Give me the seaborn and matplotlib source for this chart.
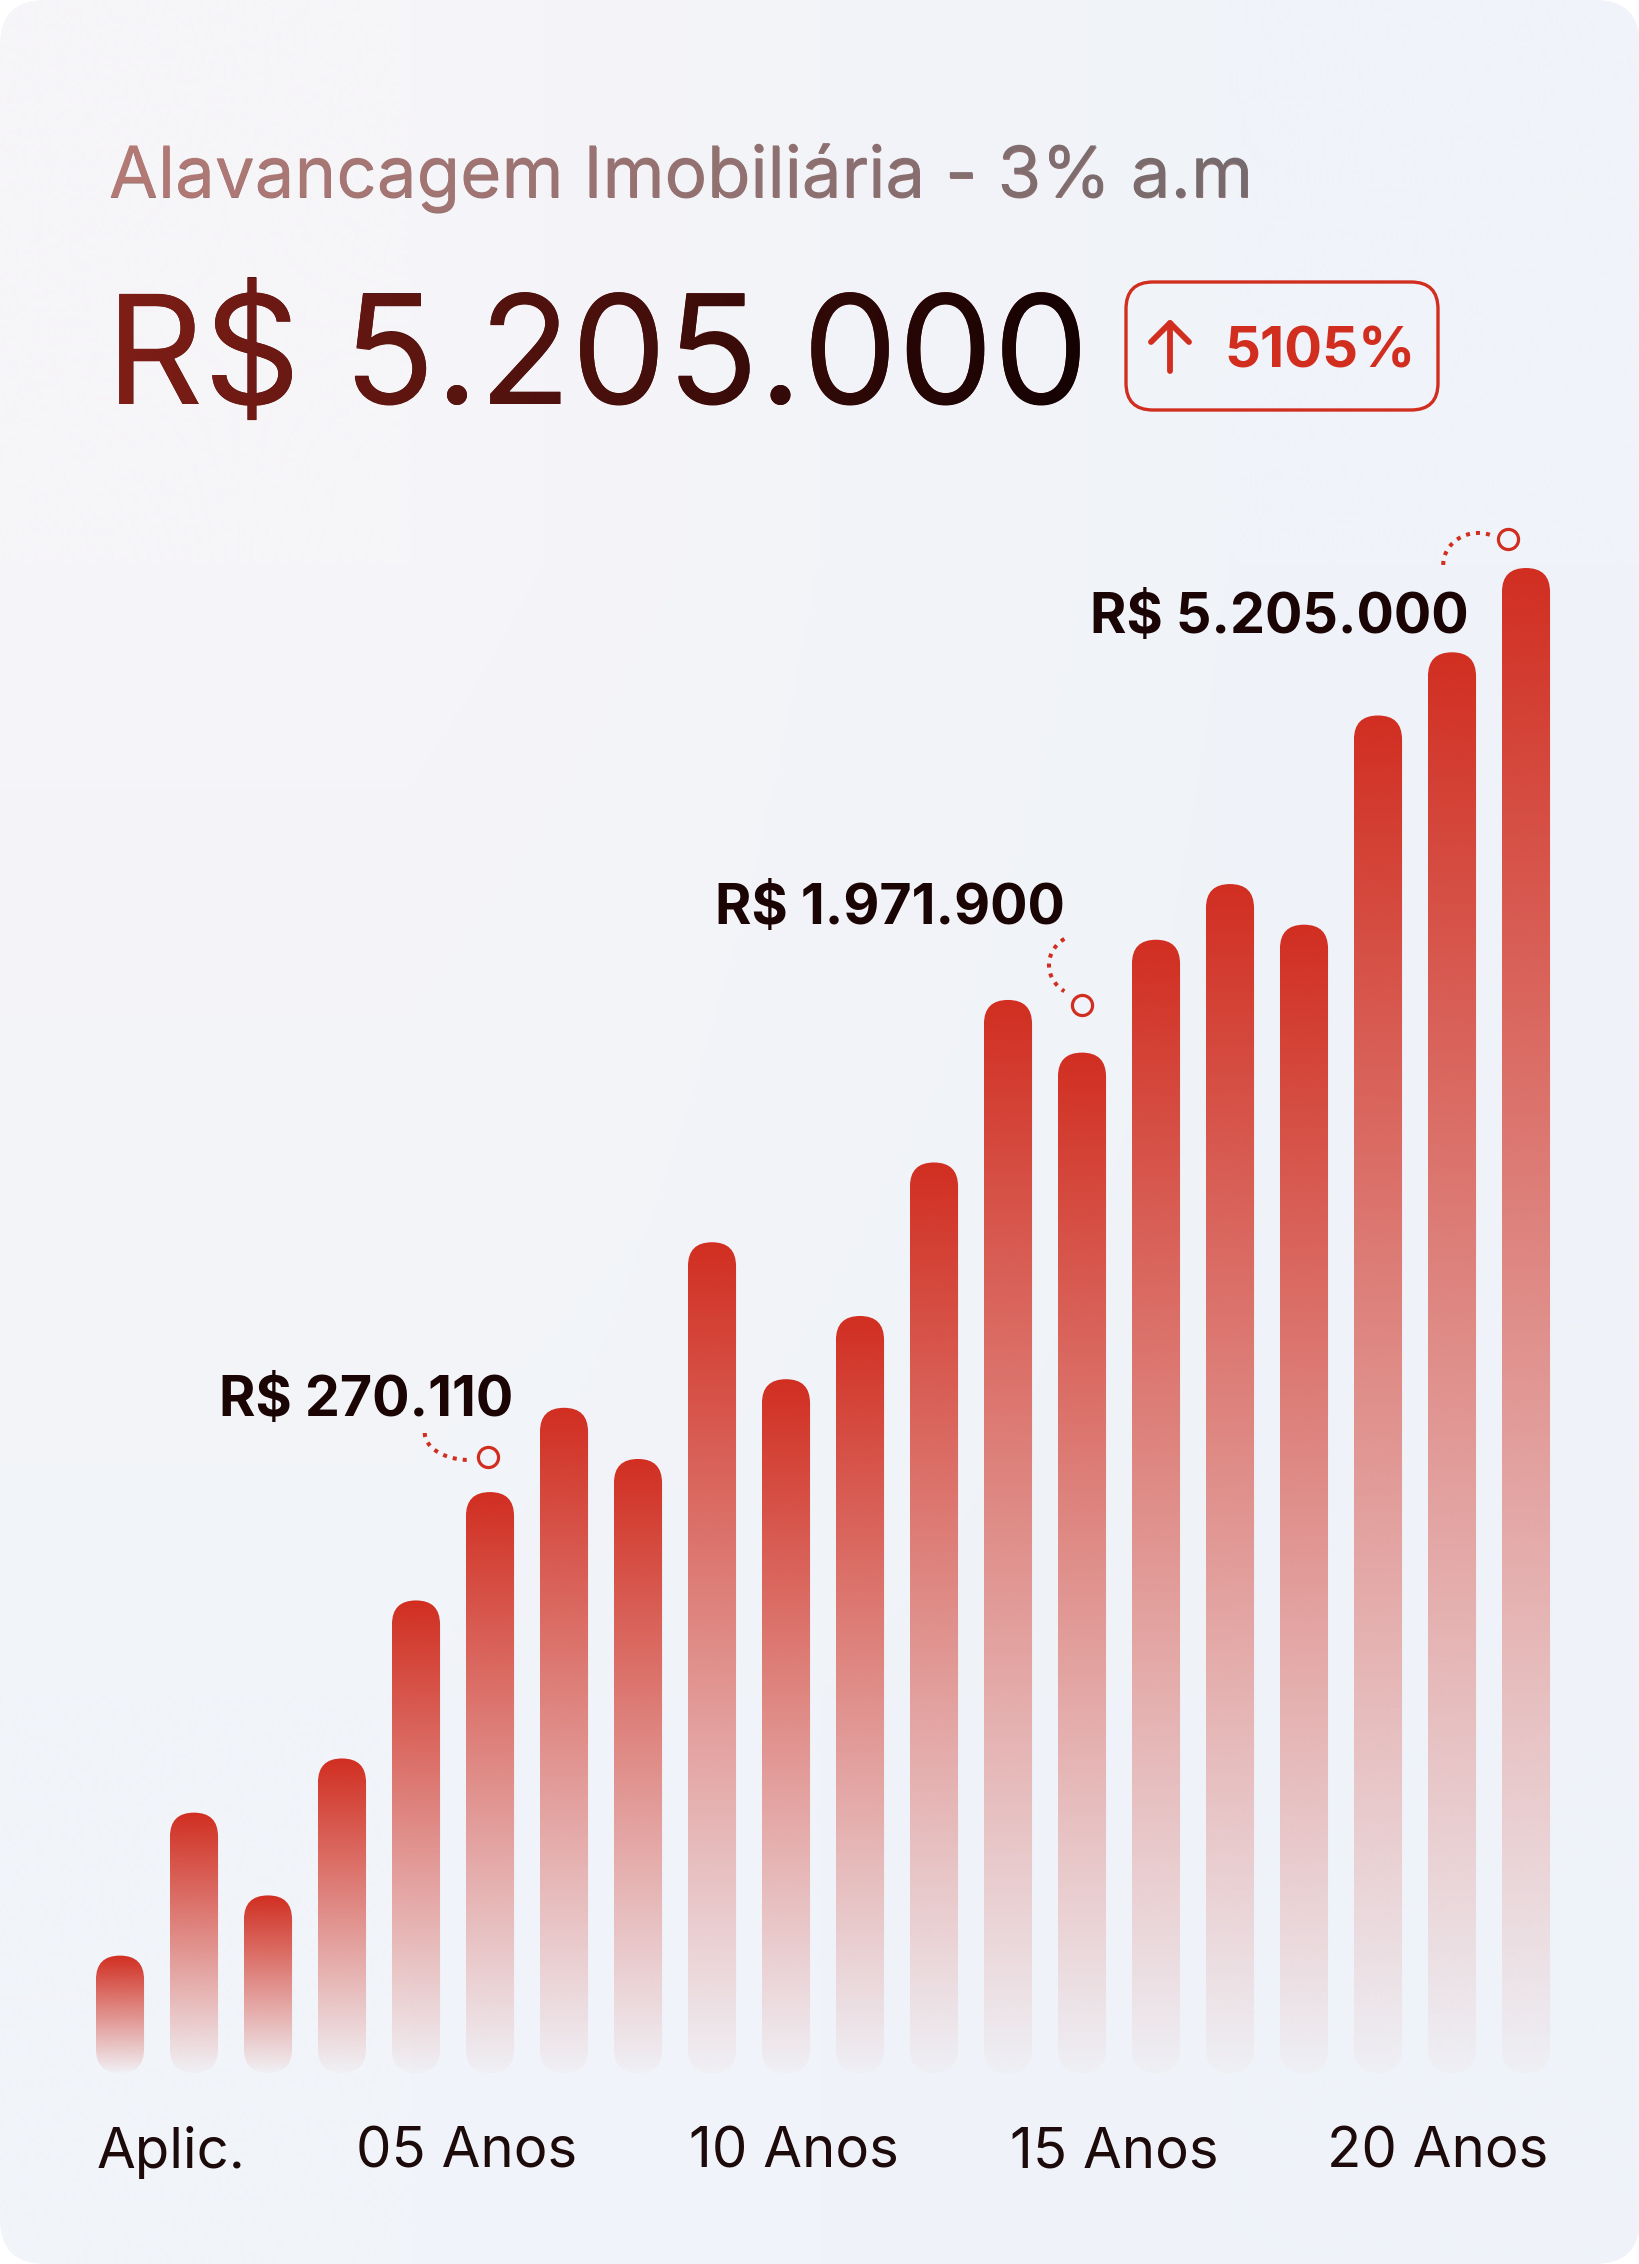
import numpy as np
import seaborn as sns
import matplotlib.pyplot as plt
import matplotlib.transforms as mtransforms
from matplotlib.patches import FancyBboxPatch, PathPatch
from matplotlib.textpath import TextPath
from matplotlib.font_manager import FontProperties
from matplotlib.colors import to_rgb

# --- dados ---
periodos = list(range(1, 21))
alturas = [7.8, 17.3, 11.8, 20.9, 31.4, 38.6, 44.2, 40.8, 55.2, 46.1,
           50.3, 60.5, 71.3, 67.8, 75.3, 79.0, 76.3, 90.2, 94.4, 100.0]
rotulos_x = ["Aplic.", "05 Anos", "10 Anos", "15 Anos", "20 Anos"]
titulo = "Alavancagem Imobiliária - 3% a.m"
total = "R$ 5.205.000"
variacao = "5105%"
destaques = ["R$ 270.110", "R$ 1.971.900", "R$ 5.205.000"]

# --- layout / estilo ---
W, H, DPI = 1640, 2264, 100
RED = "#d12e20"
DARK = "#1a0404"
BG = "#f0f3f9"
FONT = ["Inter", "DejaVu Sans"]
pos_x = [0.69, 4.69, 9.11, 13.43, 17.81]
# (x direita, baseline) do rotulo e centro do circulo, em coordenadas dos dados
rotulo_xy = [(5.31, 43.65), (12.77, 76.35), (18.23, 95.7)]
circulo_xy = [(4.97, 40.93), (13.0, 70.96), (18.76, 101.93)]
# arcos pontilhados: centro relativo ao circulo (px), raios, angulos
arcos = [((-18, 24), 45, 27, 180, 270),
         ((3, 40), 36, 32, 125, 235),
         ((-30, -26), 35, 32, 180, 70)]

sns.set_theme(style="white")
plt.rcParams["font.family"] = FONT

fig = plt.figure(figsize=(W / DPI, H / DPI), dpi=DPI, facecolor="white")

# fundo do cartao
bg = fig.add_axes([0, 0, 1, 1], zorder=0)
bg.set_xlim(0, W)
bg.set_ylim(H, 0)
bg.set_autoscale_on(False)
bg.axis("off")
card = FancyBboxPatch((0, 0), W, H, boxstyle="round,pad=0,rounding_size=45",
                      transform=bg.transData, fc="none", ec="none")
bg.add_patch(card)
cg = np.array([[to_rgb("#f6f5f8"), to_rgb("#f0f3f9")],
               [to_rgb("#f1f4f9"), to_rgb("#eff3f9")]])
im = bg.imshow(cg, extent=[0, W, H, 0], interpolation="bilinear", aspect="auto")
im.set_clip_path(card)


def texto_gradiente(x, y, s, size, c0, c1, weight="normal"):
    cm = np.array(to_rgb(c0)) * 0.5 + np.array(to_rgb(c1)) * 0.5
    bg.text(x, y, s, fontsize=size, color=cm, ha="left", va="baseline",
            fontweight=weight, family=FONT)
    tp = TextPath((0, 0), s, size=size * DPI / 72,
                  prop=FontProperties(family=FONT, weight=weight))
    tr = mtransforms.Affine2D().scale(1, -1).translate(x, y) + bg.transData
    clip = PathPatch(tp, transform=tr, fc="none", ec="none")
    bg.add_patch(clip)
    ext = tp.get_extents()
    n = 256
    g = np.zeros((1, n, 3))
    for k in range(3):
        g[0, :, k] = np.linspace(to_rgb(c0)[k], to_rgb(c1)[k], n)
    gi = bg.imshow(g, extent=[x + ext.x0 - 2, x + ext.x1 + 2, y - ext.y0 + 4, y - ext.y1 - 4],
                   interpolation="bilinear", aspect="auto", zorder=3)
    gi.set_clip_path(clip)


texto_gradiente(109, 197, titulo, 51, "#b47a76", "#756a6d")
texto_gradiente(106, 404, total, 109, "#7e1e17", "#140202")

# selo de variacao
badge = FancyBboxPatch((1126, 282), 312, 128, boxstyle="round,pad=0,rounding_size=27",
                       fc="none", ec=RED, lw=2.4, transform=bg.transData)
bg.add_patch(badge)
bg.plot([1170, 1170], [371, 323], color=RED, lw=4.2, solid_capstyle="round")
bg.plot([1151, 1170, 1189], [342, 323, 342], color=RED, lw=4.2,
        solid_capstyle="round", solid_joinstyle="round")
bg.text(1224, 368, variacao, fontsize=40.5, fontweight="bold", color=RED,
        ha="left", va="baseline")

# grafico de barras
ax = fig.add_axes([83 / W, (H - 2073) / H, 1480 / W, 1655.5 / H], zorder=1)
ax.patch.set_alpha(0)
sns.barplot(x=periodos, y=alturas, ax=ax, width=0.65, color=RED, saturation=1)
ax.set_xlim(-0.5, len(periodos) - 0.5)
ax.set_ylim(0, 110)
ax.set_autoscale_on(False)
sns.despine(ax=ax, left=True, bottom=True)
ax.set_yticks([])
ax.set_xlabel("")
ax.set_ylabel("")

n = 256
grad = np.zeros((n, 1, 4))
grad[:, 0, :3] = to_rgb(RED)
grad[:, 0, 3] = np.linspace(1.0, 0.02, n)

barras = list(ax.patches)
for p in barras:
    x0, x1, h = p.get_x(), p.get_x() + p.get_width(), p.get_height()
    p.set_visible(False)
    d0 = ax.transData.transform((x0, 0))
    d1 = ax.transData.transform((x1, h))
    w = d1[0] - d0[0]
    clip = FancyBboxPatch((d0[0], d0[1]), w, d1[1] - d0[1],
                          boxstyle=f"round,pad=0,rounding_size={w / 2}",
                          transform=mtransforms.IdentityTransform(), fc="none", ec="none")
    gi = ax.imshow(grad, extent=[x0, x1, 0, h], aspect="auto",
                   interpolation="bicubic", zorder=2)
    gi.set_clip_path(clip)

ax.set_xticks(pos_x, rotulos_x)
ax.tick_params(axis="x", length=0, pad=68.4, labelsize=40.5, labelcolor="#1d0a0a")
for lbl in ax.get_xticklabels():
    lbl.set_va("baseline")

# rotulos de destaque
for s, (tx, ty), (cx, cy), (c, rx, ry, a0, a1) in zip(destaques, rotulo_xy, circulo_xy, arcos):
    ax.text(tx, ty, s, ha="right", va="baseline", fontsize=40,
            fontweight="bold", color=DARK)
    t = np.radians(np.linspace(a0, a1, 60))
    tr = mtransforms.ScaledTranslation(cx, cy, ax.transData)
    ax.plot(c[0] + rx * np.cos(t), c[1] + ry * np.sin(t), transform=tr,
            color=RED, lw=2.9, linestyle=(0, (1, 1.5)), dash_capstyle="butt",
            clip_on=False, zorder=4)
    ax.scatter([cx], [cy], s=210, facecolor=BG, edgecolor=RED, linewidth=2.3,
               zorder=5, clip_on=False)

fig.savefig("out.png", dpi=DPI, facecolor="white")
